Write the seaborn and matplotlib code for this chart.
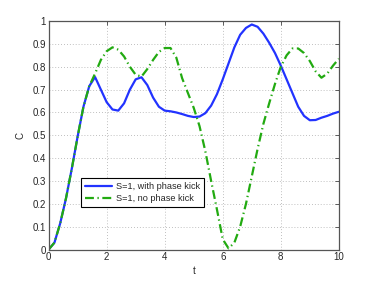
import numpy as np
import pandas as pd
import seaborn as sns
import matplotlib.pyplot as plt
from matplotlib.ticker import FormatStrFormatter

# time axis (read every 0.2)
t = np.round(np.arange(0, 10.01, 0.2), 1)

# S=1, with phase kick
c_kick = [0.00, 0.03, 0.115, 0.225, 0.355, 0.495, 0.625, 0.715, 0.755, 0.70,
          0.645, 0.613, 0.608, 0.64, 0.70, 0.745, 0.754, 0.72, 0.665, 0.625,
          0.608, 0.605, 0.60, 0.593, 0.585, 0.58, 0.582, 0.597, 0.63, 0.68,
          0.745, 0.815, 0.885, 0.94, 0.97, 0.985, 0.975, 0.945, 0.905, 0.86,
          0.805, 0.745, 0.685, 0.625, 0.585, 0.566, 0.567, 0.577, 0.585, 0.595,
          0.603]

# S=1, no phase kick
c_nokick = [0.00, 0.03, 0.115, 0.225, 0.355, 0.495, 0.625, 0.715, 0.77, 0.83,
            0.868, 0.885, 0.875, 0.845, 0.80, 0.765, 0.757, 0.79, 0.83, 0.865,
            0.882, 0.882, 0.84, 0.75, 0.685, 0.62, 0.54, 0.43, 0.30, 0.175,
            0.045, 0.005, 0.03, 0.10, 0.20, 0.32, 0.44, 0.55, 0.64, 0.725,
            0.80, 0.85, 0.88, 0.88, 0.86, 0.825, 0.78, 0.752, 0.77, 0.805,
            0.835]

df = pd.DataFrame({"t": t, "kick": c_kick, "nokick": c_nokick})

sns.set_style("white")
plt.rcParams['font.family'] = ['Liberation Sans', 'DejaVu Sans']

fig = plt.figure(figsize=(3.74, 2.81), dpi=100)
ax = fig.add_axes([0.13, 0.112, 0.776, 0.813])

sns.lineplot(data=df, x="t", y="kick", ax=ax, color="#2233ff", lw=1.6,
             label="S=1, with phase kick")
sns.lineplot(data=df, x="t", y="nokick", ax=ax, color="#22aa11", lw=1.6,
             linestyle=(0, (4, 1.6, 0.6, 1.6)), label="S=1, no phase kick")

ax.set_xlim(0, 10)
ax.set_ylim(0, 1)
ax.set_xticks(np.arange(0, 11, 2))
ax.set_yticks(np.arange(0, 1.01, 0.1))
ax.yaxis.set_major_formatter(FormatStrFormatter('%g'))
ax.grid(True, linestyle=(0, (1, 2.5)), color='#aaaaaa', lw=0.6)
ax.tick_params(direction='in', length=3, width=0.6, labelsize=7,
               top=True, right=True, color='#444444', pad=2)
for s in ax.spines.values():
    s.set_color('#555555')
    s.set_linewidth(0.9)

ax.set_xlabel("t", fontsize=7, labelpad=3)
ax.set_ylabel("C", fontsize=7, labelpad=5)

leg = ax.legend(loc='lower left', bbox_to_anchor=(0.112, 0.187), fontsize=6.6,
                fancybox=False, framealpha=1, edgecolor='black',
                handlelength=3.0, borderpad=0.4, labelspacing=0.35,
                handletextpad=0.4, borderaxespad=0)
leg.get_frame().set_linewidth(0.8)

fig.savefig("out.png", dpi=100)
